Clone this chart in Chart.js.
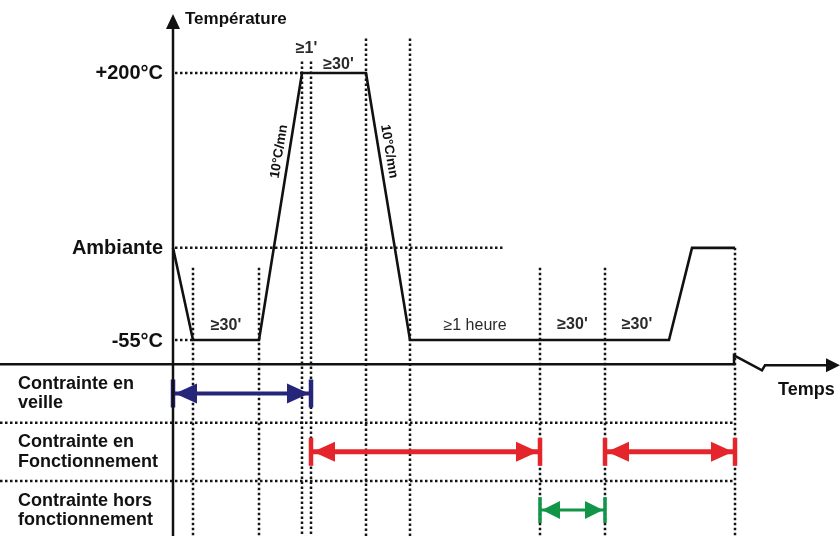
<!DOCTYPE html>
<html>
<head>
<meta charset="utf-8">
<script src="https://cdn.jsdelivr.net/npm/chart.js@4.4.1/dist/chart.umd.min.js"></script>
<style>
body{margin:0;background:#fff;}
canvas{display:block;}
</style>
</head>
<body>
<canvas id="cycleChart" width="840" height="536"></canvas>
<script>
// temperature profile (schematic time units, °C)
const profileTime = [0, 2, 8.6, 12.9, 19.3, 23.7, 49.6, 51.9, 56.2];
const profileTemp = [33, -55, -55, 200, 200, -55, -55, 33, 33];

// level tick labels
const levelLabels = ["+200°C", "Ambiante", "-55°C"];
const levelValues = [200, 33, -55];

// vertical dotted markers (time, upper end in °C)
const markerTime = [2, 8.6, 12.9, 13.8, 19.3, 23.7, 36.7, 43.2, 56.2];
const markerTop = [14, 14, 211, 211, 233, 233, 14, 14, 33];

// horizontal dotted guides
const guideLevel = [200, 33, -55];
const guideEnd = [12.9, 33.2, 2];

// duration labels over the plateaus
const segLabels = ["≥30'", "≥1'", "≥30'", "≥1 heure", "≥30'", "≥30'"];
const segStart = [2, 12.9, 13.8, 23.7, 36.7, 43.2];
const segEnd = [8.6, 13.8, 19.3, 36.7, 43.2, 49.6];
const segLevel = [-55, 200, 200, -55, -55, -55];

const rampLabel = "10°C/mn";
const rampIndex = [2, 4];

// constraint rows and spans
const rowLabels = [["Contrainte en", "veille"], ["Contrainte en", "Fonctionnement"], ["Contrainte hors", "fonctionnement"]];
const spanRow = [0, 1, 1, 2];
const spanStart = [0, 13.8, 43.2, 36.7];
const spanEnd = [13.8, 36.7, 56.2, 43.2];

const xTitle = "Temps";
const yTitle = "Température";

// styles
const FONT = "'Liberation Sans', Arial, sans-serif";
const spanColors = ["#25257a", "#e4252b", "#e4252b", "#119648"];
const spanWidths = [4, 5, 5, 3];
const spanHead = [[22, 10, 14], [22, 10, 14], [22, 10, 14], [18, 9, 13]];
const labelLift = [14, 24, 8, 14, 15, 15];
const labelBold = [true, true, true, false, true, true];

const T_MIN = -242.2, T_MAX = 269.7;

const dotted = {borderColor:"#151515", borderWidth:2.5, borderDash:[2.5, 2.5], pointRadius:0, showLine:true, order:3};

const datasets = [];
datasets.push({
    data: profileTime.map((t, i) => ({x:t, y:profileTemp[i]})),
    borderColor:"#111", borderWidth:2.6, pointRadius:0, showLine:true, order:1
});
spanRow.forEach((r, i) => {
    datasets.push({
        span:true, spanIdx:i, yAxisID:"yRow",
        data:[{x:spanStart[i], y:r}, {x:spanEnd[i], y:r}],
        borderColor:spanColors[i], borderWidth:spanWidths[i], pointRadius:0, showLine:true, order:0
    });
});
markerTime.forEach((t, i) => {
    datasets.push(Object.assign({data:[{x:t, y:markerTop[i]}, {x:t, y:T_MIN}]}, dotted));
});
guideLevel.forEach((v, i) => {
    datasets.push(Object.assign({data:[{x:0.2, y:v}, {x:guideEnd[i], y:v}]}, dotted));
});
[0.5, 1.5].forEach(v => {
    datasets.push(Object.assign({yAxisID:"yRow", data:[{x:-17.3, y:v}, {x:markerTime[markerTime.length-1], y:v}]}, dotted));
});

function tri(ctx, tipX, y, dir, len, half){
    ctx.beginPath();
    ctx.moveTo(tipX, y);
    ctx.lineTo(tipX + dir*len, y - half);
    ctx.lineTo(tipX + dir*len, y + half);
    ctx.closePath();
    ctx.fill();
}

const decor = {
    id:"decor",
    afterDatasetsDraw(chart){
        const ctx = chart.ctx;
        const {x, y, yRow} = chart.scales;
        ctx.save();
        // span arrowheads and end bars
        chart.data.datasets.forEach((ds, i) => {
            if(!ds.span) return;
            const meta = chart.getDatasetMeta(i);
            const a = meta.data[0], b = meta.data[1];
            const [len, half, bar] = spanHead[ds.spanIdx];
            ctx.fillStyle = spanColors[ds.spanIdx];
            tri(ctx, a.x + 2, a.y, 1, len, half);
            tri(ctx, b.x - 2, b.y, -1, len, half);
            const bw = ds.spanIdx === 3 ? 3.5 : 4.5;
            ctx.fillRect(a.x - bw/2, a.y - bar, bw, bar*2);
            ctx.fillRect(b.x - bw/2, b.y - bar, bw, bar*2);
        });

        // axes
        const x0 = x.getPixelForValue(0);
        const yA = yRow.getPixelForValue(-0.5);
        const xb = x.getPixelForValue(markerTime[markerTime.length-1]) - 1;
        ctx.strokeStyle = "#111";
        ctx.fillStyle = "#111";
        ctx.lineWidth = 2.5;
        ctx.beginPath();
        ctx.moveTo(x0, 26);
        ctx.lineTo(x0, chart.height);
        ctx.stroke();
        ctx.beginPath();
        ctx.moveTo(x0, 14);
        ctx.lineTo(x0 - 7, 29);
        ctx.lineTo(x0 + 7, 29);
        ctx.closePath();
        ctx.fill();

        ctx.beginPath();
        ctx.moveTo(0, yA);
        ctx.lineTo(xb, yA);
        ctx.lineTo(xb, yA - 9);
        ctx.lineTo(xb + 28, yA + 6);
        ctx.lineTo(xb + 31, yA + 1);
        ctx.lineTo(830, yA + 1);
        ctx.stroke();
        ctx.beginPath();
        ctx.moveTo(840, yA + 1);
        ctx.lineTo(826, yA - 6);
        ctx.lineTo(826, yA + 8);
        ctx.closePath();
        ctx.fill();

        // level labels
        ctx.textBaseline = "middle";
        ctx.textAlign = "right";
        ctx.font = "bold 20px " + FONT;
        levelLabels.forEach((s, i) => {
            ctx.fillText(s, x0 - 10, y.getPixelForValue(levelValues[i]) + 1);
        });

        // titles
        ctx.textAlign = "left";
        ctx.font = "bold 17px " + FONT;
        ctx.fillText(yTitle, x0 + 12, 19);
        ctx.font = "bold 18px " + FONT;
        ctx.fillText(xTitle, 778, yA + 26);

        // row labels
        rowLabels.forEach((lines, r) => {
            const c = yRow.getPixelForValue(r);
            ctx.font = "bold 18px " + FONT;
            ctx.fillText(lines[0], 18, c - 9.5);
            ctx.fillText(lines[1], 18, c + 10);
        });

        // duration labels
        ctx.textAlign = "center";
        ctx.fillStyle = "#2a2a2a";
        segLabels.forEach((s, i) => {
            ctx.font = (labelBold[i] ? "bold " : "") + "16px " + FONT;
            const cx = x.getPixelForValue((segStart[i] + segEnd[i]) / 2);
            ctx.fillText(s, cx, y.getPixelForValue(segLevel[i]) - labelLift[i]);
        });

        // ramp labels
        ctx.font = "bold 13.5px " + FONT;
        ctx.fillStyle = "#111";
        const pts = chart.getDatasetMeta(0).data;
        rampIndex.forEach(k => {
            const p0 = pts[k], p1 = pts[k+1];
            const top = p0.y < p1.y ? p0 : p1, bot = p0.y < p1.y ? p1 : p0;
            const px = top.x + 0.3*(bot.x - top.x), py = top.y + 0.3*(bot.y - top.y);
            ctx.save();
            ctx.translate(px, py);
            ctx.rotate(Math.atan2(p1.y - p0.y, p1.x - p0.x));
            ctx.fillText(rampLabel, 0, -10);
            ctx.restore();
        });
        ctx.restore();
    }
};

new Chart(document.getElementById("cycleChart"), {
    type:"scatter",
    data:{datasets},
    options:{
        responsive:false,
        animation:false,
        layout:{padding:0},
        plugins:{legend:{display:false}, tooltip:{enabled:false}},
        scales:{
            x:{type:"linear", display:false, min:-17.3, max:66.7, bounds:"data"},
            y:{type:"linear", display:false, min:T_MIN, max:T_MAX, bounds:"data"},
            yRow:{type:"linear", axis:"y", display:false, min:-6.75, max:2.444, reverse:true, bounds:"data"}
        }
    },
    plugins:[decor]
});
</script>
</body>
</html>
